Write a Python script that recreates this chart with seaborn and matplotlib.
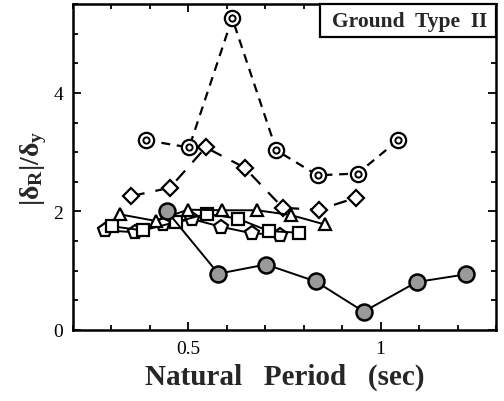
import matplotlib
matplotlib.use("Agg")
import matplotlib.pyplot as plt
from matplotlib.patches import Rectangle
from matplotlib.ticker import MultipleLocator, FixedLocator
import seaborn as sns
import pandas as pd

# Natural period (sec) and residual drift ratio |dR|/dy for each structure group
dcirc_T = [0.39, 0.502, 0.614, 0.729, 0.836, 0.94, 1.045]
dcirc_R = [3.20, 3.08, 5.26, 3.03, 2.61, 2.64, 3.20]

diam_T = [0.352, 0.452, 0.545, 0.646, 0.746, 0.84, 0.935]
diam_R = [2.26, 2.40, 3.08, 2.74, 2.06, 2.03, 2.23]

tri_T = [0.323, 0.415, 0.499, 0.588, 0.679, 0.766, 0.855]
tri_R = [1.95, 1.84, 2.03, 2.02, 2.02, 1.94, 1.78]

pent_T = [0.284, 0.361, 0.435, 0.51, 0.586, 0.666, 0.737]
pent_R = [1.68, 1.65, 1.78, 1.87, 1.74, 1.63, 1.61]

sq_T = [0.301, 0.382, 0.467, 0.548, 0.628, 0.709, 0.789]
sq_R = [1.75, 1.68, 1.82, 1.96, 1.88, 1.67, 1.64]

shd_T = [0.445, 0.578, 0.702, 0.831, 0.956, 1.094, 1.223]
shd_R = [2.00, 0.95, 1.105, 0.82, 0.31, 0.81, 0.94]

x_ticks = [0.5, 1.0]
x_ticklabels = ["0.5", "1"]
y_ticks = [0, 2, 4]

sns.set_theme(style="ticks")
plt.rcParams["font.family"] = ["Liberation Serif", "DejaVu Serif"]
plt.rcParams["mathtext.fontset"] = "custom"
plt.rcParams["mathtext.rm"] = "Liberation Serif:bold"
plt.rcParams["mathtext.it"] = "Liberation Serif:bold"
plt.rcParams["mathtext.bf"] = "Liberation Serif:bold"

fig = plt.figure(figsize=(5.04, 4.02), dpi=100)
ax = fig.add_axes([73 / 504, 71 / 402, 423 / 504, 326 / 402])

def frame(T, R):
    return pd.DataFrame({"T": T, "R": R})

lw = 1.4
# solid series with open markers
sns.lineplot(data=frame(pent_T, pent_R), x="T", y="R", ax=ax, color="black", lw=lw,
             marker="p", markersize=10, markerfacecolor="white", markeredgecolor="black",
             markeredgewidth=1.6, zorder=3)
sns.lineplot(data=frame(sq_T, sq_R), x="T", y="R", ax=ax, color="black", lw=lw,
             marker="s", markersize=8, markerfacecolor="white", markeredgecolor="black",
             markeredgewidth=1.6, zorder=3)
sns.lineplot(data=frame(tri_T, tri_R), x="T", y="R", ax=ax, color="black", lw=lw,
             marker="^", markersize=9, markerfacecolor="white", markeredgecolor="black",
             markeredgewidth=1.6, zorder=4)
# dashed series
sns.lineplot(data=frame(diam_T, diam_R), x="T", y="R", ax=ax, color="black", lw=1.6,
             marker="D", markersize=8, markerfacecolor="white", markeredgecolor="black",
             markeredgewidth=1.6, dashes=False, linestyle=(0, (6, 5)), zorder=3)
sns.lineplot(data=frame(dcirc_T, dcirc_R), x="T", y="R", ax=ax, color="black", lw=1.6,
             marker="o", markersize=11, markerfacecolor="white", markeredgecolor="black",
             markeredgewidth=1.6, dashes=False, linestyle=(0, (4, 3)), zorder=5)
sns.scatterplot(data=frame(dcirc_T, dcirc_R), x="T", y="R", ax=ax, s=20,
                facecolor="white", edgecolor="black", linewidth=1.4, zorder=6)
# shaded circles
sns.lineplot(data=frame(shd_T, shd_R), x="T", y="R", ax=ax, color="black", lw=lw,
             marker="o", markersize=11.5, markerfacecolor="#9a9a9a", markeredgecolor="black",
             markeredgewidth=1.8, zorder=5)

ax.set_xlim(0.2, 1.3)
ax.set_ylim(0, 5.5)
ax.xaxis.set_major_locator(FixedLocator(x_ticks))
ax.set_xticklabels(x_ticklabels)
ax.xaxis.set_minor_locator(MultipleLocator(0.1))
ax.yaxis.set_major_locator(FixedLocator(y_ticks))
ax.yaxis.set_minor_locator(MultipleLocator(0.5))
ax.tick_params(which="both", direction="in", top=True, right=True, width=1.3,
               labelsize=14, color="black", labelcolor="black")
ax.tick_params(which="major", length=6, pad=7)
ax.tick_params(which="minor", length=3.5)
for sp in ax.spines.values():
    sp.set_linewidth(1.8)
    sp.set_color("black")

ax.set_xlabel("Natural   Period   (sec)", fontsize=21, fontweight="bold", labelpad=4)
ax.set_ylabel(r"$|\delta_{\mathrm{R}}|/\delta_{\mathrm{y}}$", fontsize=20, labelpad=3)

# boxed panel title in the upper right corner
ax.add_patch(Rectangle((0.584, 0.899), 0.416, 0.101, transform=ax.transAxes,
                       facecolor="white", edgecolor="black", linewidth=1.6, zorder=10,
                       clip_on=False))
ax.text(0.795, 0.947, "Ground  Type  II", transform=ax.transAxes, ha="center", va="center",
        fontsize=15.5, fontweight="bold", zorder=11)

fig.savefig("out.png", dpi=100)
